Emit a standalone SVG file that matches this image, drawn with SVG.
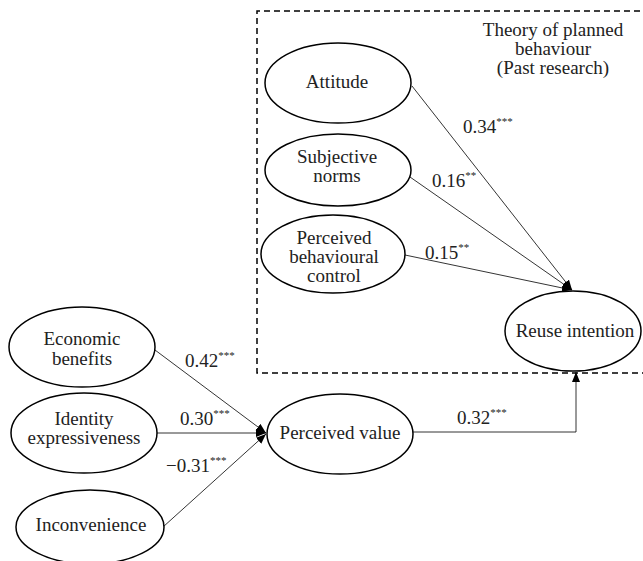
<svg xmlns="http://www.w3.org/2000/svg" width="643" height="561" viewBox="0 0 643 561" font-family="'Liberation Serif', 'Times New Roman', 'DejaVu Serif', serif">
<defs>
<style>
.node ellipse{fill:#fff;stroke:#000;stroke-width:1.5}
text{font-family:'Liberation Serif','Times New Roman','DejaVu Serif',serif;font-size:19px;fill:#222}
.c{text-anchor:middle}
.sup{font-size:11px}
.conn line,.conn polyline{stroke:#000;stroke-width:0.8;fill:none}
</style>
<marker id="ah" markerUnits="userSpaceOnUse" markerWidth="11" markerHeight="9" refX="10" refY="4" orient="auto">
<path d="M0,0 L10,4 L0,8 z" fill="#000"/>
</marker>
</defs>
<rect width="643" height="561" fill="#fff"/>
<g id="tpb-box">
<path d="M660 11 H257 V373 H660" fill="none" stroke="#000" stroke-width="1.5" stroke-dasharray="6,4"/>
<text class="c" x="553" y="36">Theory of planned</text>
<text class="c" x="553" y="55">behaviour</text>
<text class="c" x="553" y="74">(Past research)</text>
</g>
<g class="conn" id="connectors">
<line x1="412" y1="86" x2="572" y2="290" marker-end="url(#ah)"/>
<line x1="410" y1="177" x2="572" y2="290" marker-end="url(#ah)"/>
<line x1="405" y1="255" x2="572" y2="290" marker-end="url(#ah)"/>
<line x1="155" y1="350" x2="266" y2="433" marker-end="url(#ah)"/>
<line x1="157" y1="433" x2="266" y2="433" marker-end="url(#ah)"/>
<line x1="163" y1="527" x2="266" y2="434" marker-end="url(#ah)"/>
<polyline points="413,432 576,432 576,372" marker-end="url(#ah)"/>
<text x="463" y="133">0.34<tspan class="sup" dy="-8">***</tspan></text>
<text x="432" y="187">0.16<tspan class="sup" dy="-8">**</tspan></text>
<text x="425" y="259">0.15<tspan class="sup" dy="-8">**</tspan></text>
<text x="185" y="367">0.42<tspan class="sup" dy="-8">***</tspan></text>
<text x="180" y="425">0.30<tspan class="sup" dy="-8">***</tspan></text>
<text x="166" y="472">−0.31<tspan class="sup" dy="-8">***</tspan></text>
<text x="457" y="424">0.32<tspan class="sup" dy="-8">***</tspan></text>
</g>
<g class="node" id="attitude">
<ellipse cx="338" cy="83" rx="73" ry="40"/>
<text class="c" x="337" y="88">Attitude</text>
</g>
<g class="node" id="subjective-norms">
<ellipse cx="338" cy="170" rx="73" ry="36"/>
<text class="c" x="337" y="163">Subjective</text>
<text class="c" x="337" y="182">norms</text>
</g>
<g class="node" id="pbc">
<ellipse cx="333" cy="254" rx="72" ry="39"/>
<text class="c" x="334" y="244">Perceived</text>
<text class="c" x="334" y="263">behavioural</text>
<text class="c" x="334" y="282">control</text>
</g>
<g class="node" id="reuse-intention">
<ellipse cx="573" cy="331" rx="68" ry="40"/>
<text class="c" x="575" y="337">Reuse intention</text>
</g>
<g class="node" id="economic-benefits">
<ellipse cx="82" cy="347" rx="73" ry="40"/>
<text class="c" x="82" y="345">Economic</text>
<text class="c" x="82" y="365">benefits</text>
</g>
<g class="node" id="identity-expressiveness">
<ellipse cx="84" cy="433" rx="73" ry="40"/>
<text class="c" x="84" y="425">Identity</text>
<text class="c" x="84" y="444">expressiveness</text>
</g>
<g class="node" id="inconvenience">
<ellipse cx="90" cy="527" rx="74" ry="37"/>
<text class="c" x="91" y="531">Inconvenience</text>
</g>
<g class="node" id="perceived-value">
<ellipse cx="340" cy="434" rx="73" ry="40"/>
<text class="c" x="340" y="439">Perceived value</text>
</g>
</svg>
